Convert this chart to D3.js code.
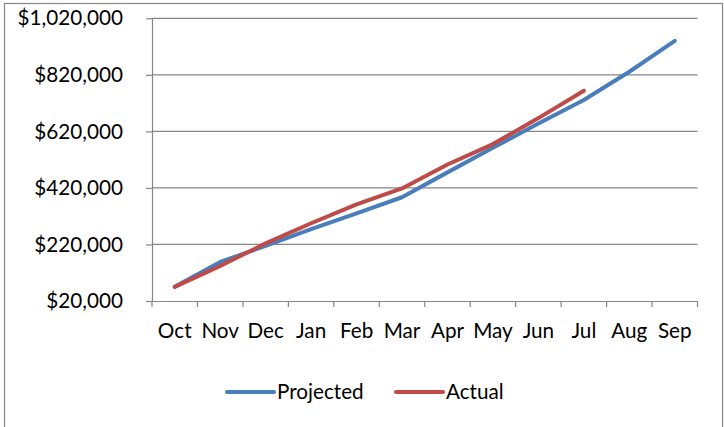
<!DOCTYPE html>
<html>
<head>
<meta charset="utf-8">
<script src="https://cdn.jsdelivr.net/npm/d3@7"></script>
<style>
  html, body { margin: 0; padding: 0; background: #fff; }
  svg { display: block; }
  text { font-family: Lato, "Open Sans", sans-serif; fill: #000; }
</style>
</head>
<body>
<svg id="chart" width="724" height="427"></svg>
<script>
const months = ["Oct","Nov","Dec","Jan","Feb","Mar","Apr","May","Jun","Jul","Aug","Sep"];
const projected = [70000,158000,215000,274000,330000,387000,475000,562000,648000,731000,831000,940000];
const actual = [70000,144000,224000,295000,362000,418000,503000,575000,667000,764000];
const yTicks = [20000,220000,420000,620000,820000,1020000];
const seriesNames = ["Projected","Actual"];
const seriesColors = ["#4A7EBB","#BE4B48"];

const svg = d3.select("#chart");
const plot = {left: 152, right: 697.5, top: 18.3, bottom: 301};
const FS = "20.7px";

// chart border
svg.append("rect").attr("x",4.5).attr("y",3.5).attr("width",718).attr("height",430)
  .attr("fill","#fff").attr("stroke","#868686").attr("stroke-width",1.2);

const x = d3.scaleBand().domain(months).range([plot.left, plot.right]).padding(0);
const y = d3.scaleLinear().domain([20000,1020000]).range([plot.bottom, plot.top]);

// gridlines
svg.append("g").selectAll("line").data(yTicks.slice(1)).join("line")
  .attr("x1",plot.left).attr("x2",plot.right)
  .attr("y1",d=>y(d)).attr("y2",d=>y(d))
  .attr("stroke","#868686").attr("stroke-width",1.2);

// y axis
const fmt = d => "$" + d3.format(",")(d);
const yAxis = svg.append("g").attr("transform",`translate(${plot.left},0)`)
  .call(d3.axisLeft(y).tickValues(yTicks).tickFormat(fmt).tickSizeInner(6).tickSizeOuter(0).tickPadding(23));
yAxis.select(".domain").attr("stroke","#868686").attr("stroke-width",1.2);
yAxis.selectAll(".tick line").attr("stroke","#868686").attr("stroke-width",1.2);
yAxis.selectAll(".tick text").attr("font-size",FS).attr("font-family","Lato, sans-serif").attr("fill","#000");

// x axis
const xAxis = svg.append("g").attr("transform",`translate(0,${plot.bottom})`)
  .call(d3.axisBottom(x).tickSize(0).tickPadding(22));
xAxis.select(".domain").attr("stroke","#868686").attr("stroke-width",1.2);
xAxis.selectAll(".tick text").attr("font-size",FS).attr("font-family","Lato, sans-serif").attr("fill","#000");
// category boundary ticks
const bounds = months.map(m => x(m)).concat([plot.right]);
svg.append("g").selectAll("line").data(bounds).join("line")
  .attr("x1",d=>d).attr("x2",d=>d)
  .attr("y1",plot.bottom).attr("y2",plot.bottom+6)
  .attr("stroke","#868686").attr("stroke-width",1.2);

// lines
const line = d3.line()
  .x((d,i)=>x(months[i]) + x.bandwidth()/2)
  .y(d=>y(d));
[projected, actual].forEach((data, k) => {
  svg.append("path").datum(data)
    .attr("d", line)
    .attr("fill","none")
    .attr("stroke", seriesColors[k])
    .attr("stroke-width",4)
    .attr("stroke-linecap","round")
    .attr("stroke-linejoin","round");
});

// legend
const legendItems = [
  {name: seriesNames[0], color: seriesColors[0], x: 227},
  {name: seriesNames[1], color: seriesColors[1], x: 396}
];
const lg = svg.append("g");
legendItems.forEach(it => {
  lg.append("line").attr("x1",it.x).attr("x2",it.x+47).attr("y1",392).attr("y2",392)
    .attr("stroke",it.color).attr("stroke-width",4).attr("stroke-linecap","round");
  lg.append("text").attr("x",it.x+50).attr("y",399).attr("font-size",FS).text(it.name);
});
</script>
</body>
</html>
